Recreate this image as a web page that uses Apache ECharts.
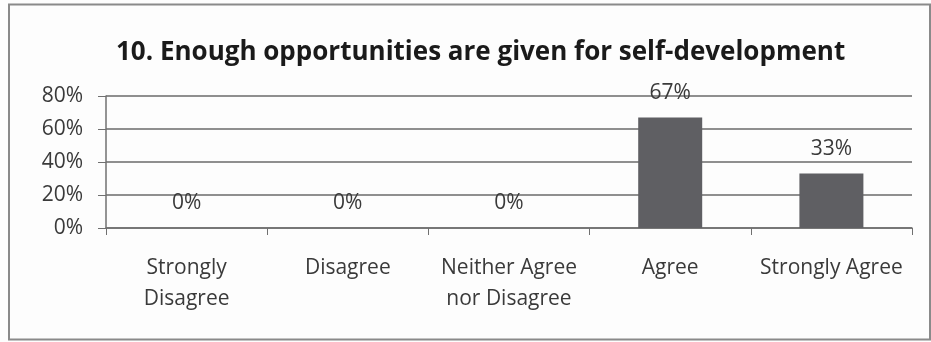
<!DOCTYPE html>
<html><head><meta charset="utf-8">
<script src="https://cdn.jsdelivr.net/npm/echarts@6/dist/echarts.min.js"></script>
<style>html,body{margin:0;padding:0;background:#fff}#c{width:931px;height:342px}</style>
</head><body><div id="c"></div>
<script>
const title = '10. Enough opportunities are given for self-development';
const categories = ['Strongly\nDisagree', 'Disagree', 'Neither Agree\nnor Disagree', 'Agree', 'Strongly Agree'];
const values = [0, 0, 0, 67, 33];
const yTicks = [0, 20, 40, 60, 80];

const chart = echarts.init(document.getElementById('c'));
chart.setOption({
  backgroundColor: '#fdfdfd',
  animation: false,
  graphic: [{
    type: 'rect', shape: {x: 9, y: 4.5, width: 921, height: 335},
    style: {fill: 'none', stroke: '#8a8a8a', lineWidth: 2}, silent: true
  }],
  title: {
    text: title, left: 111, top: 35,
    textStyle: {fontFamily: 'Open Sans', fontWeight: 'bold', fontSize: 26, color: '#1a1a1a'}
  },
  grid: {left: 106, right: 19, top: 96, bottom: 114, containLabel: false},
  xAxis: {
    type: 'category', data: categories,
    axisLine: {lineStyle: {color: '#707070', width: 1.5}},
    axisTick: {show: true, length: 7, lineStyle: {color: '#707070'}},
    axisLabel: {interval: 0, hideOverlap: false, fontFamily: 'Open Sans', fontSize: 21, color: '#3a3a3a', margin: 25, lineHeight: 31, verticalAlign: 'top'}
  },
  yAxis: {
    type: 'value', min: 0, max: 80, interval: 20,
    axisLine: {show: true, lineStyle: {color: '#707070', width: 1.5}},
    axisTick: {show: true, length: 8, lineStyle: {color: '#707070'}},
    splitLine: {lineStyle: {color: '#6a6a6a', width: 1.5}},
    axisLabel: {fontFamily: 'Open Sans', fontSize: 21, color: '#3a3a3a', margin: 23,
      formatter: v => yTicks.includes(v) ? v + '%' : ''}
  },
  series: [{
    type: 'bar', data: values, barWidth: 64,
    itemStyle: {color: '#5f5f63'},
    label: {show: true, position: 'top', distance: 14, formatter: p => p.value + '%',
      fontFamily: 'Open Sans', fontSize: 21, color: '#3a3a3a'}
  }]
});
</script></body></html>
